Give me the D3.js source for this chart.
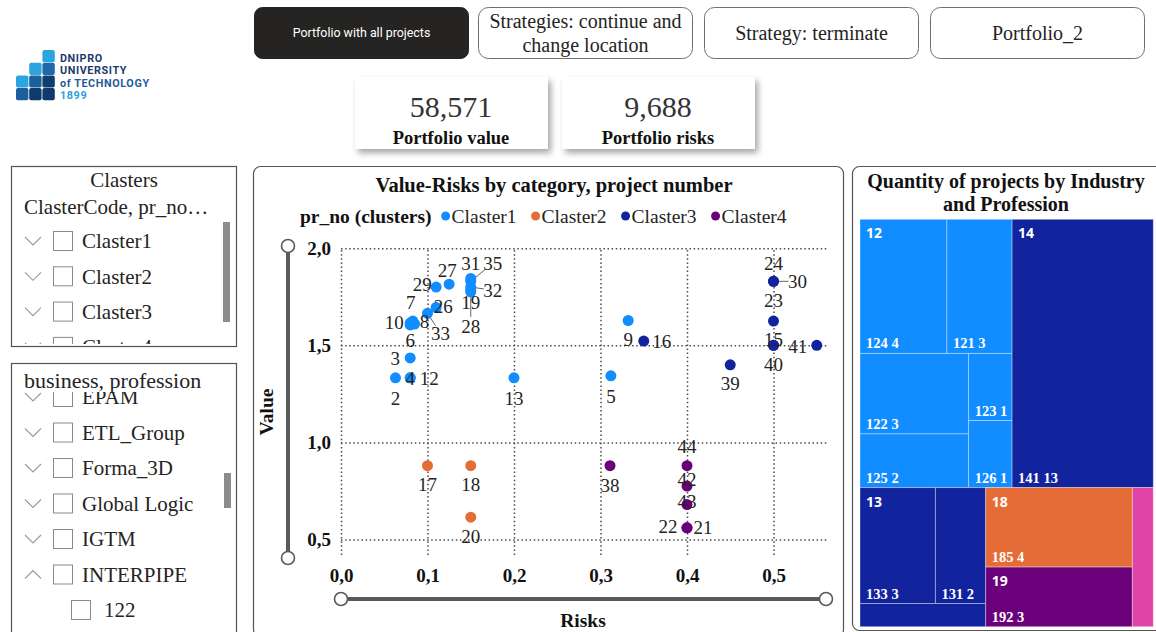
<!DOCTYPE html>
<html>
<head>
<meta charset="utf-8">
<script src="https://cdn.jsdelivr.net/npm/d3@7"></script>
<style>
  html, body { margin: 0; padding: 0; background: #fff; }
  svg { display: block; }
</style>
</head>
<body>
<svg id="dash" width="1156" height="632"></svg>
<script>
// ---------------- data ----------------
const clusterNames  = ["Claster1", "Claster2", "Claster3", "Claster4"];
const clusterColors = ["#118DFF", "#E66C37", "#12239E", "#6B007B"];

// projects: number, risk, value, cluster index
const projectNo      = [2, 4, 12, 3, 10, 6, 7, 8, 33, 26, 29, 27, 31, 35, 32, 19, 28, 13, 5, 9,
                        17, 18, 20,
                        16, 39, 30, 24, 23, 15, 40, 41,
                        38, 44, 42, 43, 22, 21];
const projectRisk    = [0.063, 0.08, 0.08, 0.08, 0.08, 0.08, 0.083, 0.085, 0.10, 0.11, 0.11, 0.125, 0.15, 0.15, 0.15, 0.15, 0.15, 0.20, 0.312, 0.332,
                        0.10, 0.15, 0.15,
                        0.35, 0.45, 0.50, 0.50, 0.50, 0.50, 0.50, 0.55,
                        0.311, 0.40, 0.40, 0.40, 0.40, 0.40];
const projectValue   = [1.333, 1.333, 1.333, 1.435, 1.615, 1.605, 1.625, 1.61, 1.665, 1.695, 1.80, 1.815, 1.845, 1.83, 1.80, 1.785, 1.775, 1.333, 1.343, 1.628,
                        0.88, 0.88, 0.615,
                        1.522, 1.40, 1.83, 1.83, 1.625, 1.50, 1.50, 1.50,
                        0.88, 0.88, 0.775, 0.68, 0.56, 0.56];
const projectCluster = [0, 0, 0, 0, 0, 0, 0, 0, 0, 0, 0, 0, 0, 0, 0, 0, 0, 0, 0, 0,
                        1, 1, 1,
                        2, 2, 2, 2, 2, 2, 2, 2,
                        3, 3, 3, 3, 3, 3];

const xTicks = [0, 0.1, 0.2, 0.3, 0.4, 0.5];
const yTicks = [0.5, 1.0, 1.5, 2.0];

// treemap: industry -> profession, number of projects
const industries       = ["12", "14", "13", "18", "19", "15"];
const industryColors   = ["#118DFF", "#12239E", "#12239E", "#E66C37", "#6B007B", "#E044A7"];
const professions      = ["124", "121", "122", "125", "123", "126", "141", "133", "131", "132", "185", "192", "151"];
const professionGroup  = ["12", "12", "12", "12", "12", "12", "14", "13", "13", "13", "18", "19", "15"];
const professionCount  = [4, 3, 3, 2, 1, 1, 13, 3, 2, 1, 4, 3, 1];

// cards, buttons, slicers
const kpiValues   = [58571, 9688];
const kpiLabels   = ["Portfolio value", "Portfolio risks"];
const buttonTexts = [["Portfolio with all projects"], ["Strategies: continue and", "change location"], ["Strategy: terminate"], ["Portfolio_2"]];
const clasterItems  = ["Claster1", "Claster2", "Claster3", "Claster4"];
const businessItems = ["EPAM", "ETL_Group", "Forma_3D", "Global Logic", "IGTM", "INTERPIPE"];
const interpipeItems = ["122"];

// ---------------- layout helpers ----------------
const SERIF = "'Liberation Serif', 'Times New Roman', serif";
const SANS = "Roboto, 'Open Sans', sans-serif";
const TEXT = "#252423";
const svg = d3.select("#dash");

const defs = svg.append("defs");
const shadow = defs.append("filter").attr("id", "cardShadow")
  .attr("x", "-10%").attr("y", "-10%").attr("width", "130%").attr("height", "140%");
shadow.append("feDropShadow").attr("dx", 3).attr("dy", 4).attr("stdDeviation", 3)
  .attr("flood-color", "#000").attr("flood-opacity", 0.35);

// ---------------- logo ----------------
const logo = svg.append("g");
const logoCells = [
  [0, 2, "#2AA5E0"],
  [1, 1, "#2AA5E0"], [1, 2, "#1E6AA8"],
  [2, 0, "#2AA5E0"], [2, 1, "#1B5F9D"], [2, 2, "#113E70"],
  [3, 0, "#1B5F9D"], [3, 1, "#0F3A6C"], [3, 2, "#0F3A6C"]
];
logo.selectAll("rect").data(logoCells).join("rect")
  .attr("x", d => 16 + d[1] * 13.2).attr("y", d => 50 + d[0] * 12.7)
  .attr("width", 12.4).attr("height", 12.2).attr("rx", 2)
  .attr("fill", d => d[2]);
const logoLines = [["DNIPRO", "#1C3A6A", 61.5], ["UNIVERSITY", "#1C3A6A", 74], ["of TECHNOLOGY", "#1F5C9C", 86.5], ["1899", "#2A9FD8", 99]];
logo.selectAll("text").data(logoLines).join("text")
  .attr("x", 60).attr("y", d => d[2]).text(d => d[0])
  .attr("fill", d => d[1]).attr("font-family", SANS).attr("font-weight", 700)
  .attr("font-size", 10.8).attr("letter-spacing", 0.6);

// ---------------- buttons ----------------
const btnX = [254, 478, 704, 930];
const btnW = 214;
buttonTexts.forEach((lines, i) => {
  const g = svg.append("g").attr("transform", `translate(${btnX[i]},7)`);
  const active = i === 0;
  g.append("rect").attr("x", 0.5).attr("y", 0.5).attr("width", btnW).attr("height", 51)
    .attr("rx", active ? 8 : 10)
    .attr("fill", active ? "#252423" : "#fff")
    .attr("stroke", active ? "#252423" : "#6f6f6f").attr("stroke-width", 1);
  const t = g.append("text").attr("x", btnW / 2 + 0.5).attr("text-anchor", "middle")
    .attr("fill", active ? "#fff" : TEXT)
    .attr("font-family", active ? SANS : SERIF)
    .attr("font-size", active ? 12.4 : 20);
  if (lines.length === 1) {
    t.append("tspan").attr("x", btnW / 2 + 0.5).attr("y", 26).attr("dy", "0.35em").text(lines[0]);
  } else {
    lines.forEach((l, k) => t.append("tspan").attr("x", btnW / 2 + 0.5).attr("y", 14 + k * 24).attr("dy", "0.35em").text(l));
  }
});

// ---------------- KPI cards ----------------
const kpiX = [355, 562];
const fmtInt = d3.format(",");
kpiValues.forEach((v, i) => {
  const g = svg.append("g").attr("transform", `translate(${kpiX[i]},77)`);
  g.append("rect").attr("width", 193).attr("height", 72).attr("fill", "#fff").attr("filter", "url(#cardShadow)");
  g.append("text").attr("x", 96).attr("y", 29).attr("dy", "0.35em").attr("text-anchor", "middle")
    .attr("font-family", SERIF).attr("font-size", 30).attr("fill", "#333").text(fmtInt(v));
  g.append("text").attr("x", 96).attr("y", 61).attr("dy", "0.35em").attr("text-anchor", "middle")
    .attr("font-family", SERIF).attr("font-weight", 700).attr("font-size", 18.5).attr("fill", "#111").text(kpiLabels[i]);
});

// ---------------- slicers ----------------
function chevron(g, cx, cy, up) {
  const pts = up ? [[cx - 8, cy + 4], [cx, cy - 4], [cx + 8, cy + 4]] : [[cx - 8, cy - 4], [cx, cy + 4], [cx + 8, cy - 4]];
  g.append("polyline").attr("points", pts.map(p => p.join(",")).join(" "))
    .attr("fill", "none").attr("stroke", "#9a9a9a").attr("stroke-width", 1.1);
}
function checkbox(g, x, cy) {
  g.append("rect").attr("x", x + 0.5).attr("y", cy - 9.5).attr("width", 19).attr("height", 19)
    .attr("fill", "#fff").attr("stroke", "#8a8a8a").attr("stroke-width", 1);
}
function slicerRow(g, label, cy, opts = {}) {
  const indent = opts.indent || 0;
  if (!opts.noChevron) chevron(g, 33, cy, opts.up);
  checkbox(g, 53 + indent, cy);
  g.append("text").attr("x", 82 + indent + (indent ? 4 : 0)).attr("y", cy).attr("dy", "0.35em")
    .attr("font-family", SERIF).attr("font-size", 21).attr("fill", TEXT).text(label);
}

// Clasters slicer
const s1 = svg.append("g");
s1.append("rect").attr("x", 11.5).attr("y", 166.5).attr("width", 225).attr("height", 180)
  .attr("fill", "#fff").attr("stroke", "#555").attr("stroke-width", 1.2);
s1.append("text").attr("x", 124).attr("y", 180).attr("dy", "0.35em").attr("text-anchor", "middle")
  .attr("font-family", SERIF).attr("font-size", 21).attr("fill", TEXT).text("Clasters");
s1.append("text").attr("x", 24).attr("y", 207).attr("dy", "0.35em")
  .attr("font-family", SERIF).attr("font-size", 21).attr("fill", TEXT).text("ClasterCode, pr_no…");
defs.append("clipPath").attr("id", "clipS1").append("rect").attr("x", 12).attr("y", 222).attr("width", 224).attr("height", 122);
const s1rows = s1.append("g").attr("clip-path", "url(#clipS1)");
clasterItems.forEach((c, i) => slicerRow(s1rows, c, 241 + i * 35.3));
s1.append("rect").attr("x", 223).attr("y", 222).attr("width", 7).attr("height", 100).attr("fill", "#8c8c8c");

// business, profession slicer
const s2 = svg.append("g");
s2.append("rect").attr("x", 11.5).attr("y", 363.5).attr("width", 225).attr("height", 280)
  .attr("fill", "#fff").attr("stroke", "#555").attr("stroke-width", 1.2);
defs.append("clipPath").attr("id", "clipS2").append("rect").attr("x", 12).attr("y", 392).attr("width", 224).attr("height", 245);
const s2rows = s2.append("g").attr("clip-path", "url(#clipS2)");
businessItems.forEach((b, i) => slicerRow(s2rows, b, 397 + i * 35.5, { up: b === "INTERPIPE" }));
interpipeItems.forEach((p, i) => slicerRow(s2rows, p, 397 + (businessItems.length + i) * 35.5, { indent: 18, noChevron: true }));
s2.append("text").attr("x", 24).attr("y", 380).attr("dy", "0.35em")
  .attr("font-family", SERIF).attr("font-size", 22).attr("fill", TEXT).text("business, profession");
s2.append("rect").attr("x", 224).attr("y", 473).attr("width", 7).attr("height", 35).attr("fill", "#8c8c8c");

// ---------------- scatter ----------------
const sp = svg.append("g");
sp.append("rect").attr("x", 253.5).attr("y", 166.5).attr("width", 590).attr("height", 470).attr("rx", 7)
  .attr("fill", "#fff").attr("stroke", "#555").attr("stroke-width", 1.2);
sp.append("text").attr("x", 554).attr("y", 185).attr("dy", "0.35em").attr("text-anchor", "middle")
  .attr("font-family", SERIF).attr("font-weight", 700).attr("font-size", 20.5).attr("fill", "#111")
  .text("Value-Risks by category, project number");

// legend
const leg = sp.append("g").attr("transform", "translate(300,216)");
const legTitle = leg.append("text").attr("x", 0).attr("dy", "0.35em")
  .attr("font-family", SERIF).attr("font-weight", 700).attr("font-size", 19.5).attr("fill", "#111").text("pr_no (clusters)");
let lx = legTitle.node().getComputedTextLength() + 14;
clusterNames.forEach((n, i) => {
  leg.append("circle").attr("cx", lx).attr("cy", 0).attr("r", 4.5).attr("fill", clusterColors[i]);
  const t = leg.append("text").attr("x", lx + 6).attr("dy", "0.35em")
    .attr("font-family", SERIF).attr("font-size", 19.5).attr("fill", TEXT).text(n);
  lx += 6 + t.node().getComputedTextLength() + 19;
});

const x = d3.scaleLinear().domain([0, 0.563]).range([341, 828]);
const y = d3.scaleLinear().domain([0.42, 2.0]).range([555, 248.3]);
const fmtDec = v => d3.format(".1f")(v).replace(".", ",");

const gx = sp.append("g").attr("transform", `translate(0,${y.range()[0]})`)
  .call(d3.axisBottom(x).tickValues(xTicks).tickSize(-(y.range()[0] - y.range()[1])).tickPadding(14).tickFormat(fmtDec));
const gy = sp.append("g").attr("transform", `translate(${x.range()[0]},0)`)
  .call(d3.axisLeft(y).tickValues(yTicks).tickSize(-(x.range()[1] - x.range()[0])).tickPadding(10).tickFormat(fmtDec));
[gx, gy].forEach(g => {
  g.select(".domain").remove();
  g.selectAll(".tick line").attr("stroke", "#4a4a4a").attr("stroke-width", 1.5).attr("stroke-dasharray", "1.5,2.6");
  g.selectAll(".tick text").attr("font-family", SERIF).attr("font-weight", 700).attr("font-size", 19).attr("fill", "#111");
});

// range sliders
function slider(x1, y1, x2, y2) {
  sp.append("line").attr("x1", x1).attr("y1", y1).attr("x2", x2).attr("y2", y2)
    .attr("stroke", "#5a5a5a").attr("stroke-width", 4);
  [[x1, y1], [x2, y2]].forEach(p => sp.append("circle").attr("cx", p[0]).attr("cy", p[1]).attr("r", 6.5)
    .attr("fill", "#fff").attr("stroke", "#5a5a5a").attr("stroke-width", 1.6));
}
slider(288, 246, 288, 558);
slider(x(0), 599, 826, 599);

sp.append("text").attr("transform", "translate(266,412) rotate(-90)").attr("text-anchor", "middle").attr("dy", "0.35em")
  .attr("font-family", SERIF).attr("font-weight", 700).attr("font-size", 19.5).attr("fill", "#111").text("Value");
sp.append("text").attr("x", 583).attr("y", 620).attr("dy", "0.35em").attr("text-anchor", "middle")
  .attr("font-family", SERIF).attr("font-weight", 700).attr("font-size", 19.5).attr("fill", "#111").text("Risks");

// data label placement around each point (offset of the label centre)
const labelOffset = {
  2: [0, 21], 4: [0, 1], 12: [19, 1], 3: [-15, 0], 10: [-16, -1], 6: [0, 15], 7: [-2, -19], 8: [10, -3],
  33: [13, 20], 26: [7, -1], 29: [-14, -3], 27: [-2, -14], 31: [0, -15], 35: [22, -18], 32: [22, 3],
  19: [0, 12], 28: [0, 34], 13: [0, 21], 5: [0, 21], 9: [0, 19],
  17: [0, 19], 18: [0, 19], 20: [0, 19],
  16: [18, 0], 39: [0, 19], 30: [24, 0], 24: [0, -18], 23: [0, -21], 15: [0, -6], 40: [0, 19], 41: [-19, 1],
  38: [0, 20], 44: [0, -19], 42: [0, -7], 43: [0, -3], 22: [-19, -1], 21: [16, 0]
};
const leaderIds = [33, 35, 32, 28, 30, 29];

const pts = projectNo.map((id, i) => ({ id, risk: projectRisk[i], value: projectValue[i], cluster: projectCluster[i] }));

const leaders = sp.append("g");
pts.filter(p => leaderIds.includes(p.id)).forEach(p => {
  const [dx, dy] = labelOffset[p.id];
  const len = Math.hypot(dx, dy);
  const f = (len - 9) / len;
  leaders.append("line").attr("x1", x(p.risk)).attr("y1", y(p.value))
    .attr("x2", x(p.risk) + dx * f).attr("y2", y(p.value) + dy * f)
    .attr("stroke", "#666").attr("stroke-width", 1);
});

sp.append("g").selectAll("circle").data(pts).join("circle")
  .attr("cx", d => x(d.risk)).attr("cy", d => y(d.value)).attr("r", 5.5)
  .attr("fill", d => clusterColors[d.cluster]);

sp.append("g").selectAll("text").data(pts).join("text")
  .attr("x", d => x(d.risk) + labelOffset[d.id][0]).attr("y", d => y(d.value) + labelOffset[d.id][1])
  .attr("dy", "0.35em").attr("text-anchor", "middle")
  .attr("font-family", SERIF).attr("font-size", 19).attr("fill", TEXT)
  .text(d => d.id);

// ---------------- treemap ----------------
const tp = svg.append("g");
tp.append("rect").attr("x", 852.5).attr("y", 166.5).attr("width", 320).attr("height", 464).attr("rx", 7)
  .attr("fill", "#fff").attr("stroke", "#555").attr("stroke-width", 1.2);
["Quantity of projects by Industry", "and Profession"].forEach((l, i) =>
  tp.append("text").attr("x", 1006).attr("y", 181 + i * 23).attr("dy", "0.35em").attr("text-anchor", "middle")
    .attr("font-family", SERIF).attr("font-weight", 700).attr("font-size", 20).attr("fill", "#111").text(l));

const tmX = 860, tmY = 219.3, tmW = 293.3, tmH = 407.4;
const treeData = {
  name: "root",
  children: industries.map(ind => ({
    name: ind,
    children: professions
      .map((p, i) => ({ name: p, value: professionCount[i], group: professionGroup[i] }))
      .filter(p => p.group === ind)
  }))
};
const root = d3.hierarchy(treeData).sum(d => d.value || 0).sort((a, b) => b.value - a.value);
d3.treemap().size([tmW, tmH]).tile(d3.treemapSquarify).paddingInner(0)(root);

const tm = tp.append("g").attr("transform", `translate(${tmX},${tmY})`);
const colorOf = name => industryColors[industries.indexOf(name)];
tm.selectAll("rect.leaf").data(root.leaves()).join("rect").attr("class", "leaf")
  .attr("x", d => d.x0).attr("y", d => d.y0)
  .attr("width", d => d.x1 - d.x0).attr("height", d => d.y1 - d.y0)
  .attr("fill", d => colorOf(d.parent.data.name))
  .attr("stroke", "rgba(255,255,255,0.35)").attr("stroke-width", 1);

tm.selectAll("text.grp").data(root.children.filter(d => d.x1 - d.x0 > 40)).join("text").attr("class", "grp")
  .attr("x", d => d.x0 + 6).attr("y", d => d.y0 + 19)
  .attr("font-family", "'Open Sans', sans-serif").attr("font-weight", 700).attr("font-size", 14).attr("fill", "#fff")
  .text(d => d.data.name);

tm.selectAll("text.leafLabel").data(root.leaves().filter(d => d.x1 - d.x0 > 40 && d.y1 - d.y0 > 30)).join("text").attr("class", "leafLabel")
  .attr("x", d => d.x0 + 6).attr("y", d => d.y1 - 5)
  .attr("font-family", SERIF).attr("font-weight", 700).attr("font-size", 14.5).attr("fill", "#fff")
  .text(d => `${d.data.name} ${d.value}`);
</script>
</body>
</html>
